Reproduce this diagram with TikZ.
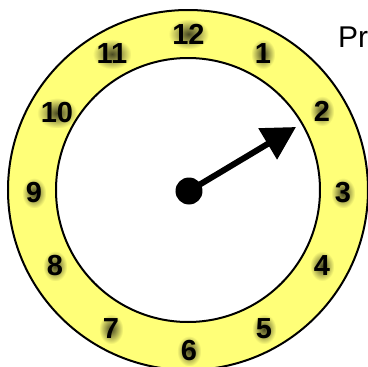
\documentclass[tikz,border=0pt]{standalone}
\usepackage{fontspec}
\setmainfont{Liberation Sans}
\usetikzlibrary{arrows.meta,fadings}
\definecolor{ringyellow}{HTML}{FFFF78}
\tikzfading[name=glowfade, inner color=transparent!5, outer color=transparent!100]
\begin{document}
\begin{tikzpicture}[x=1pt,y=-1pt,
  num/.style={font=\bfseries\fontsize{29}{29}\selectfont, inner xsep=4pt, inner ysep=5pt,
    preaction={fill=black, fill opacity=0.75, path fading=glowfade}},
  disc/.style={circle, inner sep=0pt, outer sep=0pt, draw=black, line width=2pt}]
\useasboundingbox (0,0) rectangle (368,367);
\begin{scope}
\clip (0,0) rectangle (368,367);
\node[disc, minimum size=360pt, fill=ringyellow] (outer) at (188,190) {};
\node[disc, minimum size=264pt, fill=white] (inner) at (188,190) {};
\foreach \n/\x/\y in {12/188.5/34, 1/263/54, 2/322/111, 3/343/193, 4/322/266, 5/264/329,
  6/189/351, 7/111/329, 8/55/266, 9/34/193, 10/57/113, 11/112/54}{
  \node[num] (n\n) at (\x,\y) {\n};
}
\node[circle, fill=black, minimum size=27pt, inner sep=0pt] (hub) at (189,191) {};
\coordinate (tip) at (296,127);
\draw[line width=6pt, -{Triangle[length=33pt,width=35pt]}] (hub.center) -- (tip);
\node[anchor=base west, inner sep=0pt, font=\fontsize{30}{30}\selectfont] (pr) at (338,47) {Pr};
\end{scope}
\end{tikzpicture}
\end{document}
